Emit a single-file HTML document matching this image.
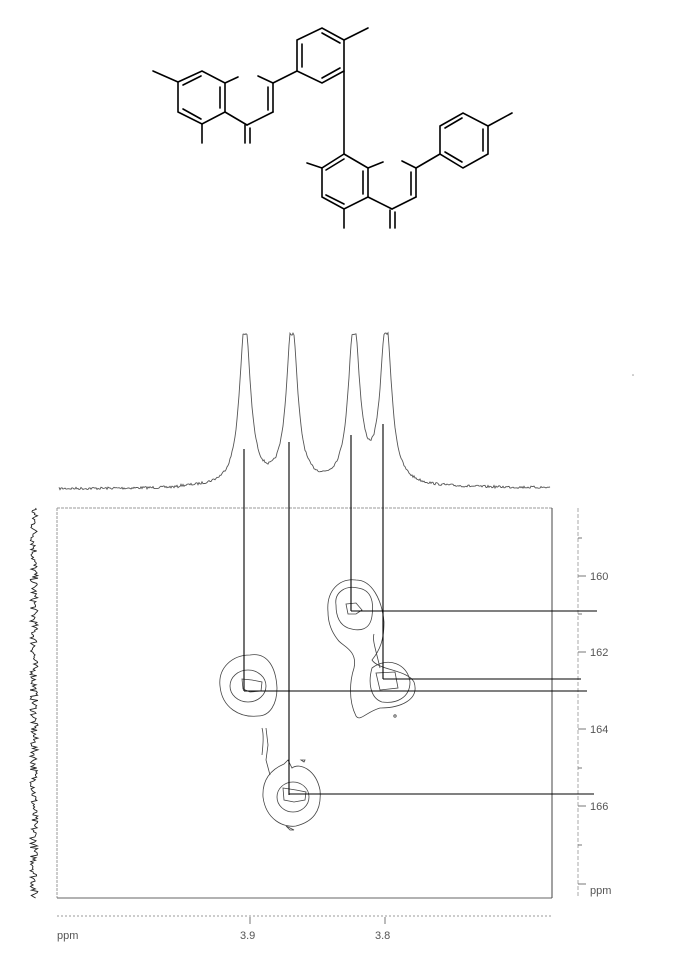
<!DOCTYPE html>
<html><head><meta charset="utf-8"><style>
html,body{margin:0;padding:0;background:#fff}
svg{display:block}
text{font-family:"Liberation Sans",sans-serif;font-size:11px;fill:#555}
</style></head><body>
<svg id="s" width="698" height="953" viewBox="0 0 698 953" xmlns="http://www.w3.org/2000/svg">
<g stroke="#000" stroke-width="1.6" fill="none" stroke-linecap="round">
<polygon points="178,82 202,71 225,83 225,112 202,124 178,112"/>
<line x1="183" y1="85" x2="201" y2="76"/><line x1="220" y1="87" x2="220" y2="108"/><line x1="183" y1="109" x2="201" y2="119"/>
<line x1="178" y1="82" x2="153" y2="71"/><line x1="225" y1="83" x2="238" y2="77"/><line x1="202" y1="124" x2="202" y2="143"/>
<line x1="225" y1="112" x2="247" y2="125"/>
<line x1="245" y1="125" x2="245" y2="143"/><line x1="250" y1="128" x2="250" y2="143"/>
<line x1="247" y1="125" x2="273" y2="112"/>
<line x1="273" y1="112" x2="273" y2="83"/><line x1="268" y1="110" x2="268" y2="87"/>
<line x1="273" y1="83" x2="258" y2="76"/><line x1="273" y1="83" x2="297" y2="71"/>
<polygon points="297,71 297,40 322,28 344,40 344,71 322,83"/>
<line x1="302" y1="44" x2="302" y2="67"/><line x1="322" y1="33" x2="340" y2="43"/><line x1="340" y1="68" x2="322" y2="78"/>
<line x1="344" y1="40" x2="368" y2="28"/>
<line x1="344" y1="71" x2="344" y2="154"/>
<polygon points="344,154 368,168 368,197 344,209 322,197 322,168"/>
<line x1="326" y1="170" x2="344" y2="159"/><line x1="363" y1="171" x2="363" y2="194"/><line x1="326" y1="195" x2="344" y2="204"/>
<line x1="368" y1="168" x2="383" y2="162"/><line x1="322" y1="168" x2="307" y2="163"/><line x1="344" y1="209" x2="344" y2="228"/>
<line x1="368" y1="197" x2="392" y2="209"/>
<line x1="390" y1="210" x2="390" y2="228"/><line x1="395" y1="212" x2="395" y2="228"/>
<line x1="392" y1="209" x2="416" y2="197"/>
<line x1="416" y1="197" x2="416" y2="168"/><line x1="411" y1="195" x2="411" y2="172"/>
<line x1="416" y1="168" x2="402" y2="161"/><line x1="416" y1="168" x2="440" y2="154"/>
<polygon points="440,154 440,126 463,113 488,126 488,154 463,168"/>
<line x1="445" y1="128" x2="462" y2="118"/><line x1="483" y1="129" x2="483" y2="151"/><line x1="445" y1="152" x2="462" y2="162"/>
<line x1="488" y1="126" x2="512" y2="113"/>
</g>

<path id="top" fill="none" stroke="#555" stroke-width="0.9"/>
<path id="side" fill="none" stroke="#222" stroke-width="0.9"/>
<g fill="none" stroke-width="1">
<line x1="57" y1="508" x2="552" y2="508" stroke="#999" stroke-dasharray="3,1"/>
<line x1="57" y1="508" x2="57" y2="898" stroke="#999" stroke-dasharray="3,1"/>
<line x1="57" y1="898" x2="552" y2="898" stroke="#666"/>
<line x1="552" y1="508" x2="552" y2="898" stroke="#444"/>
<line x1="57" y1="916" x2="552" y2="916" stroke="#999" stroke-dasharray="2,2"/>
<line x1="250" y1="917" x2="250" y2="924" stroke="#777"/>
<line x1="385" y1="917" x2="385" y2="924" stroke="#777"/>
<line x1="578" y1="508" x2="578" y2="897" stroke="#aaa" stroke-dasharray="4,2"/>
<g stroke="#777">
<line x1="578" y1="576" x2="586" y2="576"/><line x1="578" y1="652" x2="586" y2="652"/>
<line x1="578" y1="729" x2="586" y2="729"/><line x1="578" y1="806" x2="586" y2="806"/>
<line x1="578" y1="884" x2="586" y2="884"/>
<line x1="578" y1="538" x2="582" y2="538"/><line x1="578" y1="614" x2="582" y2="614"/>
<line x1="578" y1="691" x2="582" y2="691"/><line x1="578" y1="768" x2="582" y2="768"/><line x1="578" y1="845" x2="582" y2="845"/>
</g>
</g>
<text x="590" y="580">160</text><text x="590" y="656">162</text><text x="590" y="733">164</text><text x="590" y="810">166</text><text x="590" y="894">ppm</text>
<text x="57" y="939">ppm</text><text x="240" y="939">3.9</text><text x="375" y="939">3.8</text>

<g fill="none" stroke="#444" stroke-width="0.8">
<path d="M242,679 L252,680 L262,682 L261,691 L250,692 L243,689 Z"/>
<ellipse cx="248" cy="686" rx="18" ry="16"/>
<path d="M220,686 C218,668 232,655 250,655 C268,652 276,668 277,688 C277,704 270,716 258,716 C240,718 222,708 220,686 Z"/>
<path d="M346,604 L356,603 L362,610 L356,614 L348,614 Z"/>
<path d="M336,605 C334,592 346,585 358,588 C372,590 374,603 372,616 C370,630 360,632 348,628 C338,624 336,614 336,605 Z"/>
<path d="M328,612 C326,590 340,578 356,580 C372,580 382,600 384,622 C384,640 380,650 372,660 C378,670 408,670 414,682 C420,700 400,708 380,708 C366,712 360,722 356,716 C348,700 350,680 354,668 C358,650 342,646 338,640 C330,630 328,620 328,612 Z"/>
<path d="M376,673 L395,672 L398,688 L380,690 Z"/>
<path d="M372,668 C388,656 408,664 410,682 C410,698 396,704 382,702 C370,698 368,682 372,668 Z"/>
<path d="M380,668 C376,650 372,640 374,634"/>
<path d="M283,788 L296,790 L306,792 L305,800 L294,802 L284,800 Z"/>
<ellipse cx="293" cy="797" rx="16" ry="15"/>
<path d="M263,797 C262,780 270,770 284,764 L288,760 L292,768 C300,762 316,770 320,790 C322,812 312,822 296,826 C284,828 266,820 263,797 Z"/>
<path d="M266,728 L268,745 L266,760 L270,775"/>
<path d="M262,728 C264,735 263,745 262,755"/>
<path d="M286,826 L290,830 L294,830 Z"/>
<path d="M301,760 L305,760 L304,762 Z"/>
<circle cx="395" cy="716" r="1.2"/>
</g>

<g stroke="#000" stroke-width="1.1">
<line x1="244" y1="449" x2="244" y2="691"/>
<line x1="289" y1="442" x2="289" y2="795"/>
<line x1="351" y1="435" x2="351" y2="611"/>
<line x1="383" y1="424" x2="383" y2="679"/>
<line x1="351" y1="611" x2="597" y2="611"/>
<line x1="383" y1="679" x2="581" y2="679"/>
<line x1="244" y1="691" x2="587" y2="691"/>
<line x1="289" y1="794" x2="594" y2="794"/>
</g>
<circle cx="633" cy="375" r="0.8" fill="#999"/>
</svg>
<script>
(function(){
var seed=7;function r(){seed=(seed*16807)%2147483647;return seed/2147483647;}
function lor(x,c,w,h){return h*w*w/((x-c)*(x-c)+w*w);}
var d="";
for(var x=59;x<=550;x+=1){
 var y=lor(x,245,6.5,165)+lor(x,292,6.5,165)+lor(x,354,6.5,165)+lor(x,386,6.5,165);
 y=488-Math.min(y,154)+(r()-0.5)*2.5+ (x<180?1:0);
 d+=(x==59?"M":"L")+x+","+y.toFixed(1);
}
document.getElementById("top").setAttribute("d",d);
var e="";
for(var y=508;y<=898;y+=1.3){
 var x=34+(r()-0.5)*8;
 e+=(y==508?"M":"L")+x.toFixed(1)+","+y.toFixed(1);
}
document.getElementById("side").setAttribute("d",e);
})();
</script>
</body></html>
